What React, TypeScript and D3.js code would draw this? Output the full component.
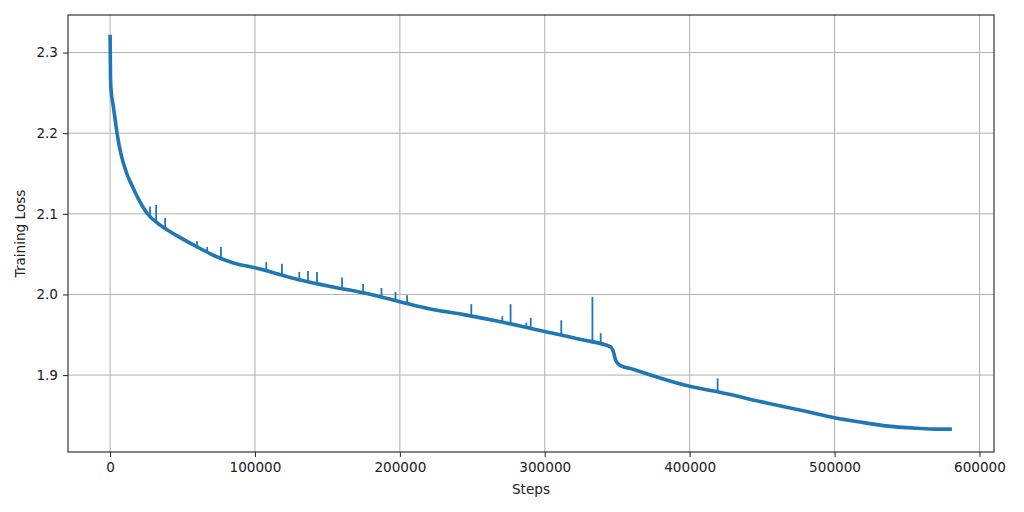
import { useEffect, useRef } from "react"
import * as d3 from "d3"

// base loss curve (step, loss)
const baseSteps = [
  0, 300, 700, 2000, 3400, 4800, 7400, 11500, 15400, 20000, 25400, 34600, 46100, 62200, 72000, 85200,
  100000, 129000, 152000, 175000, 200000, 221000, 244000, 267000, 300000, 325000, 345500,
  347500, 349000, 352000, 361500, 373000, 400000, 420000, 454000, 480000, 500000, 520000, 535000, 557000,
  570000, 581000,
]
const baseLoss = [
  2.322, 2.268, 2.253, 2.236, 2.218, 2.2, 2.175, 2.15, 2.134, 2.117, 2.101, 2.086, 2.073, 2.057, 2.048, 2.039,
  2.033, 2.019, 2.01, 2.002, 1.991, 1.982, 1.975, 1.967, 1.954, 1.944, 1.935, 1.928, 1.918,
  1.912, 1.907, 1.9, 1.886, 1.879, 1.865, 1.855, 1.847, 1.841, 1.837, 1.834, 1.833, 1.833,
]

// loss spikes: step, loss at the foot, loss at the tip
const spikeSteps = [
  27600, 31800, 38000, 60000, 67000, 76500, 107800, 118600, 130600, 136600, 142800, 160100, 174600, 187300,
  197000, 205000, 249300, 270700, 276400, 287300, 290300, 311400, 332900, 338600, 419300,
]
const spikeFoot = [
  2.097, 2.09, 2.082, 2.059, 2.053, 2.045, 2.029, 2.024, 2.019, 2.017, 2.015, 2.008, 2.002, 1.996, 1.992,
  1.989, 1.973, 1.966, 1.964, 1.959, 1.958, 1.949, 1.939, 1.937, 1.879,
]
const spikeTip = [
  2.109, 2.111, 2.095, 2.066, 2.059, 2.059, 2.04, 2.038, 2.028, 2.029, 2.028, 2.021, 2.013, 2.008, 2.003,
  1.999, 1.988, 1.973, 1.988, 1.965, 1.971, 1.968, 1.997, 1.952, 1.896,
]

const xTicks = [0, 100000, 200000, 300000, 400000, 500000, 600000]
const yTicks = [1.9, 2.0, 2.1, 2.2, 2.3]

export default function App() {
  const svgRef = useRef<SVGSVGElement>(null)

  useEffect(() => {
    if (!svgRef.current) return

    const width = 1024
    const height = 512
    const margin = { top: 15, right: 30, bottom: 60, left: 68 }
    const innerWidth = width - margin.left - margin.right
    const innerHeight = height - margin.top - margin.bottom
    const font = "DejaVu Sans, sans-serif"

    const svg = d3.select(svgRef.current).attr("width", width).attr("height", height)
    svg.selectAll("*").remove()

    svg.append("rect").attr("width", width).attr("height", height).attr("fill", "#ffffff")

    const g = svg.append("g").attr("transform", `translate(${margin.left},${margin.top})`)

    const xScale = d3.scaleLinear().domain([-29050, 610050]).range([0, innerWidth])
    const yScale = d3.scaleLinear().domain([1.8046, 2.3466]).range([innerHeight, 0])

    // grid
    g.append("g")
      .selectAll("line")
      .data(xTicks)
      .enter()
      .append("line")
      .attr("x1", (d) => xScale(d))
      .attr("x2", (d) => xScale(d))
      .attr("y1", 0)
      .attr("y2", innerHeight)
      .attr("stroke", "#b0b0b0")
      .attr("stroke-width", 1)
    g.append("g")
      .selectAll("line")
      .data(yTicks)
      .enter()
      .append("line")
      .attr("x1", 0)
      .attr("x2", innerWidth)
      .attr("y1", (d) => yScale(d))
      .attr("y2", (d) => yScale(d))
      .attr("stroke", "#b0b0b0")
      .attr("stroke-width", 1)

    const data = baseSteps.map((s, i) => [s, baseLoss[i]] as [number, number])
    const line = d3
      .line<[number, number]>()
      .x((d) => xScale(d[0]))
      .y((d) => yScale(d[1]))

    g.append("path")
      .datum(data)
      .attr("fill", "none")
      .attr("stroke", "#1f77b4")
      .attr("stroke-width", 3.6)
      .attr("stroke-linejoin", "round")
      .attr("d", line.curve(d3.curveMonotoneX))

    const spikeLine = d3
      .line<[number, number]>()
      .x((d) => xScale(d[0]))
      .y((d) => yScale(d[1]))
    spikeSteps.forEach((s, i) => {
      g.append("path")
        .datum([
          [s, spikeFoot[i]],
          [s, spikeTip[i]],
        ] as [number, number][])
        .attr("fill", "none")
        .attr("stroke", "#1f77b4")
        .attr("stroke-width", 1.8)
        .attr("d", spikeLine)
    })

    // axes
    const xAxis = g
      .append("g")
      .attr("transform", `translate(0,${innerHeight})`)
      .call(d3.axisBottom(xScale).tickValues(xTicks).tickFormat(d3.format("d")).tickSizeOuter(0).tickSize(5).tickPadding(5))
    const yAxis = g
      .append("g")
      .call(d3.axisLeft(yScale).tickValues(yTicks).tickFormat(d3.format(".1f")).tickSizeOuter(0).tickSize(5).tickPadding(5))
    ;[xAxis, yAxis].forEach((a) => {
      a.select(".domain").remove()
      a.selectAll("line").attr("stroke", "#222").attr("stroke-width", 1)
      a.selectAll("text").attr("font-family", font).attr("font-size", "13.6px").attr("fill", "#222")
    })

    // frame
    g.append("rect")
      .attr("width", innerWidth)
      .attr("height", innerHeight)
      .attr("fill", "none")
      .attr("stroke", "#222")
      .attr("stroke-width", 1.1)

    svg.append("text")
      .attr("x", margin.left + innerWidth / 2)
      .attr("y", 494)
      .attr("text-anchor", "middle")
      .attr("font-family", font)
      .attr("font-size", "13.6px")
      .attr("fill", "#222")
      .text("Steps")

    svg.append("text")
      .attr("transform", `translate(25,${margin.top + innerHeight / 2}) rotate(-90)`)
      .attr("text-anchor", "middle")
      .attr("font-family", font)
      .attr("font-size", "13.6px")
      .attr("fill", "#222")
      .text("Training Loss")
  }, [])

  return <svg ref={svgRef} style={{ position: "absolute", left: 0, top: 0 }} />
}
